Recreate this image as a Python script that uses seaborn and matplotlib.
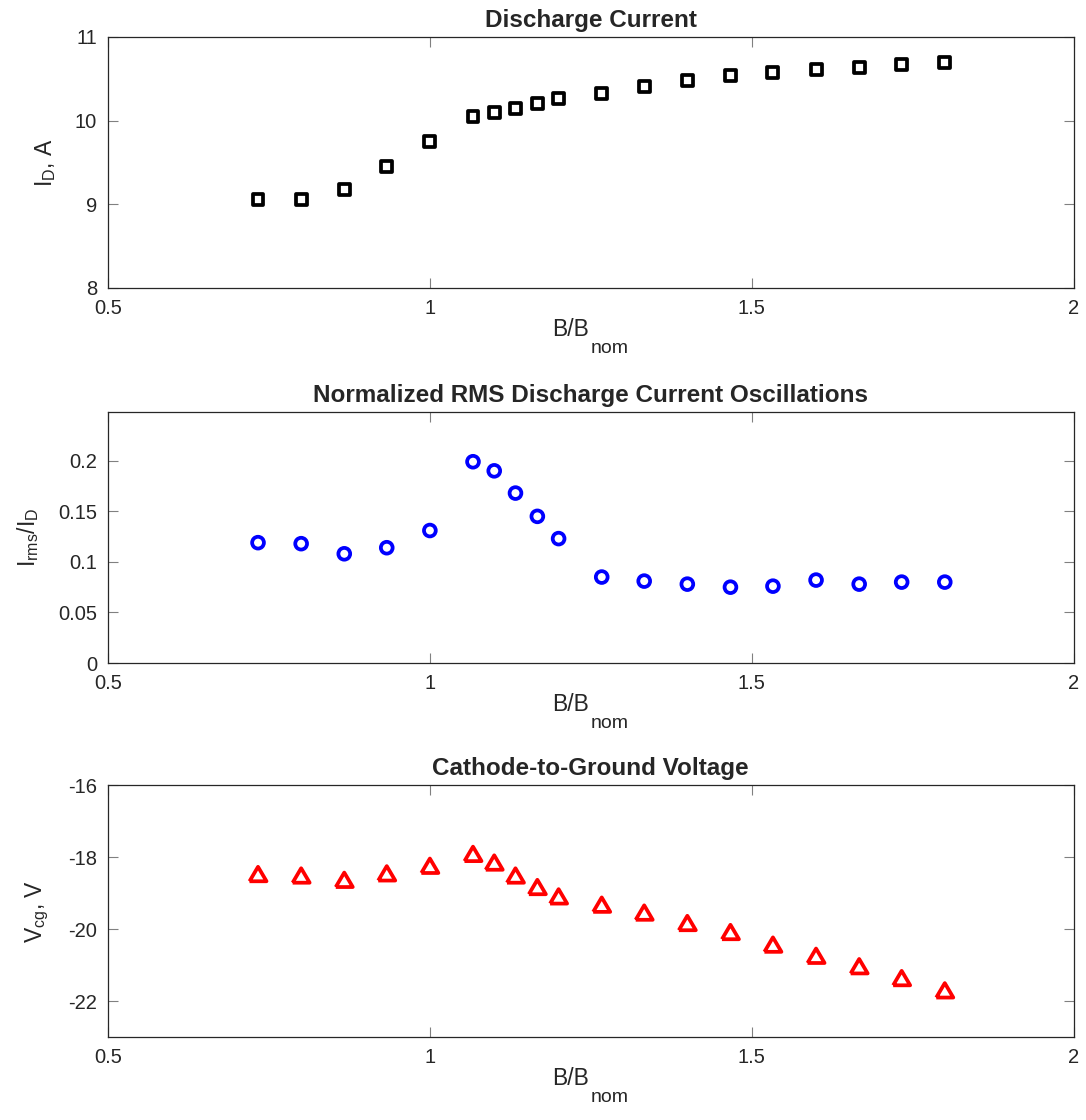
import matplotlib
matplotlib.use('Agg')
import matplotlib.pyplot as plt
import seaborn as sns
import numpy as np

# B/Bnom values shared by all three panels
b_ratio = [0.733, 0.8, 0.867, 0.933, 1.0, 1.067, 1.1, 1.133, 1.167, 1.2,
           1.267, 1.333, 1.4, 1.467, 1.533, 1.6, 1.667, 1.733, 1.8]
discharge_current = [9.06, 9.06, 9.18, 9.45, 9.75, 10.05, 10.10, 10.15, 10.20, 10.26,
                     10.32, 10.41, 10.48, 10.54, 10.58, 10.61, 10.64, 10.67, 10.70]
rms_ratio = [0.119, 0.118, 0.108, 0.114, 0.131, 0.199, 0.190, 0.168, 0.145, 0.123,
             0.085, 0.081, 0.078, 0.075, 0.076, 0.082, 0.078, 0.080, 0.080]
cathode_voltage = [-18.47, -18.51, -18.63, -18.45, -18.24, -17.91, -18.15, -18.51, -18.83, -19.09,
                   -19.32, -19.54, -19.83, -20.08, -20.43, -20.74, -21.03, -21.36, -21.70]

titles = ['Discharge Current', 'Normalized RMS Discharge Current Oscillations', 'Cathode-to-Ground Voltage']
ylabels = [r'I$_\mathregular{D}$, A', r'I$_\mathregular{rms}$/I$_\mathregular{D}$', r'V$_\mathregular{cg}$, V']

sns.set_style('ticks')
plt.rcParams['font.family'] = ['Liberation Sans', 'DejaVu Sans']
plt.rcParams['mathtext.fontset'] = 'custom'
plt.rcParams['mathtext.rm'] = 'Liberation Sans'
plt.rcParams['axes.unicode_minus'] = False

axcol = '#262626'
fig = plt.figure(figsize=(10.86, 11.2), dpi=100)
ax1 = fig.add_axes([0.0995, 0.743, 0.889, 0.224])
ax2 = fig.add_axes([0.0995, 0.408, 0.889, 0.224])
ax3 = fig.add_axes([0.0995, 0.074, 0.889, 0.225])

tri = [(-1, -0.85), (1, -0.85), (0, 0.85), (-1, -0.85)]

sns.scatterplot(x=b_ratio, y=discharge_current, ax=ax1, marker='s', s=62,
                facecolor='none', edgecolor='black', linewidth=2.7)
sns.scatterplot(x=b_ratio, y=rms_ratio, ax=ax2, marker='o', s=72,
                facecolor='none', edgecolor='blue', linewidth=2.7)
sns.scatterplot(x=b_ratio, y=cathode_voltage, ax=ax3, marker=tri, s=150,
                facecolor='none', edgecolor='red', linewidth=2.7)

ax1.set_ylim(8, 11)
ax1.set_yticks([8, 9, 10, 11])
ax2.set_ylim(0, 0.248)
ax2.set_yticks([0, 0.05, 0.1, 0.15, 0.2])
ax2.set_yticklabels(['0', '0.05', '0.1', '0.15', '0.2'])
ax3.set_ylim(-23, -16)
ax3.set_yticks([-22, -20, -18, -16])

for ax, t, yl in zip([ax1, ax2, ax3], titles, ylabels):
    ax.set_xlim(0.5, 2)
    ax.set_xticks([0.5, 1, 1.5, 2])
    ax.set_xticklabels(['0.5', '1', '1.5', '2'])
    ax.set_title(t, fontsize=17.5, fontweight='bold', pad=7)
    # x label: "B/B" with a dropped "nom" subscript, as MATLAB draws it
    ax.set_xlabel('B/B', fontsize=16.5, color=axcol)
    ax.xaxis.set_label_coords(0.479, -0.12)
    ax.annotate('nom', xy=(1, 0), xycoords=ax.xaxis.label, xytext=(1, 1),
                textcoords='offset points', ha='left', va='top',
                fontsize=14, color=axcol)
    ax.set_ylabel(yl, fontsize=16.5, color=axcol, labelpad=12)
    ax.tick_params(direction='in', length=7, width=0.8, color='#808080',
                   labelsize=14.5, labelcolor=axcol, top=True, right=True, pad=8)
    for sp in ax.spines.values():
        sp.set_visible(True)
        sp.set_color(axcol)
        sp.set_linewidth(0.9)

fig.savefig('out.png', dpi=100, facecolor='white')
